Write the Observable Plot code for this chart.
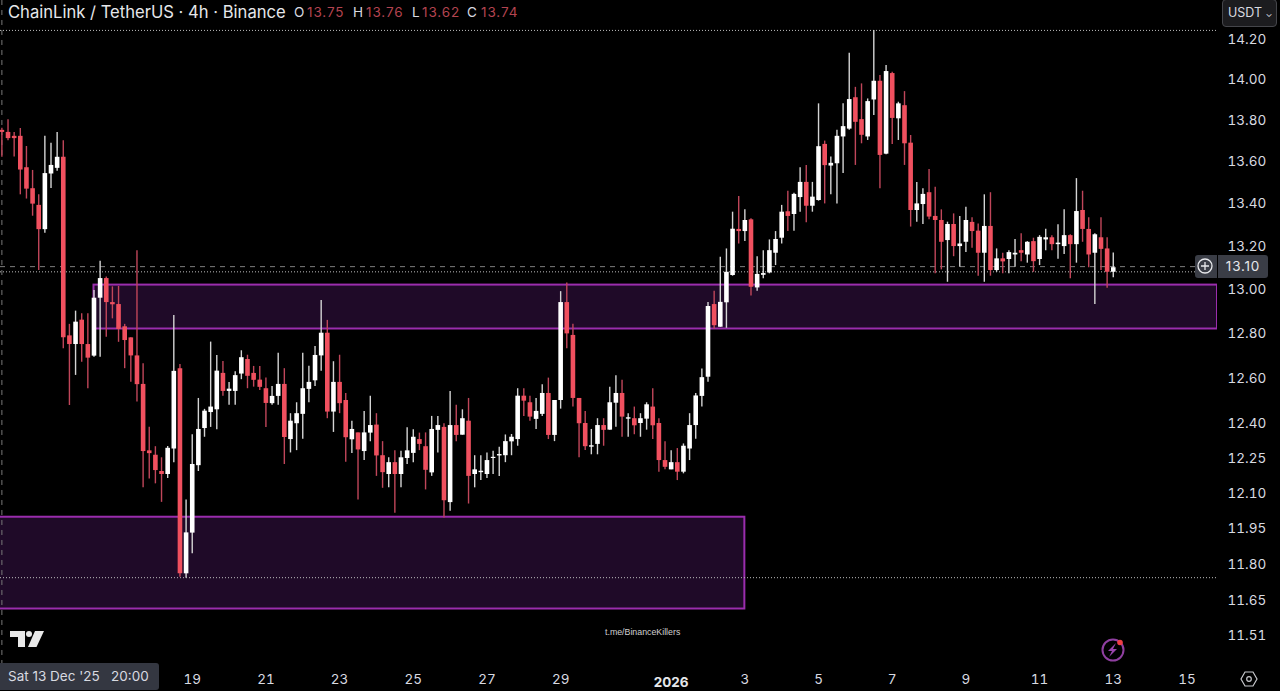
<!DOCTYPE html>
<html>
<head>
<meta charset="utf-8">
<script src="https://cdn.jsdelivr.net/npm/d3@7"></script>
<script src="https://cdn.jsdelivr.net/npm/@observablehq/plot@0.6"></script>
<style>
html,body{margin:0;padding:0;background:#000;overflow:hidden}
#wrap{position:relative;width:1280px;height:691px;background:#000;font-family:Inter,"Noto Sans",sans-serif;color:#d8dae0}
#wrap svg.plot{display:block}
.o{position:absolute;white-space:nowrap;line-height:1}
</style>
</head>
<body>
<div id="wrap">
  <div id="chart"></div>
  <div class="o" style="left:8px;top:4px;font-size:16.6px;color:#e6e7ea">ChainLink / TetherUS · 4h · Binance</div>
  <div class="o" style="left:294px;top:6px;font-size:13.5px;color:#d8dae0">O</div>
  <div class="o" style="left:307px;top:6px;font-size:13.5px;letter-spacing:.9px;color:#b34450">13.75</div>
  <div class="o" style="left:353px;top:6px;font-size:13.5px;color:#d8dae0">H</div>
  <div class="o" style="left:366px;top:6px;font-size:13.5px;letter-spacing:.9px;color:#b34450">13.76</div>
  <div class="o" style="left:412px;top:6px;font-size:13.5px;color:#d8dae0">L</div>
  <div class="o" style="left:422px;top:6px;font-size:13.5px;letter-spacing:.9px;color:#b34450">13.62</div>
  <div class="o" style="left:467px;top:6px;font-size:13.5px;color:#d8dae0">C</div>
  <div class="o" style="left:481px;top:6px;font-size:13.5px;letter-spacing:.9px;color:#b34450">13.74</div>

  <div class="o" style="left:1222px;top:-1px;width:53px;height:26px;background:#1c1c1f;border:1px solid #45464b;border-radius:4px;font-size:12.5px;line-height:26px;text-indent:5px;color:#d8dae0">USDT <span style="font-size:9px">⌄</span></div>

  <div class="o" style="left:1195px;top:255px;width:22px;height:23px;background:#3a3d46;border-radius:3px 0 0 3px"></div>
  <svg class="o" style="left:1196px;top:257px" width="18" height="18" viewBox="0 0 18 18"><circle cx="9" cy="9" r="7" fill="none" stroke="#e8e9ec" stroke-width="1.3"/><path d="M9 5v8M5 9h8" stroke="#e8e9ec" stroke-width="1.3"/></svg>
  <div class="o" style="left:1218px;top:255px;width:50px;height:23px;background:#3a3d46;border-radius:0 3px 3px 0;font-size:13.5px;letter-spacing:.8px;line-height:23px;text-align:center;color:#e6e7ea">13.10</div>

  <div class="o" style="left:0;top:663px;width:159px;height:27px;background:#343741;border-radius:0 3px 3px 0;font-size:13.5px;line-height:27px;text-indent:8px;color:#d8dae0;white-space:pre">Sat 13 Dec '25   20:00</div>

  <svg class="o" style="left:10px;top:631px" width="34" height="17" viewBox="0 0 34 17"><path d="M0 0h15v16H8V6H0zM25 0h9l-7.500 16H18z" fill="#e8e8e8"/><circle cx="19" cy="3" r="3" fill="#e8e8e8"/></svg>
  <div class="o" style="left:605px;top:628px;font-size:8.8px;color:#d0d0d0;font-family:'Liberation Sans',sans-serif">t.me/BinanceKillers</div>

  <svg class="o" style="left:1100px;top:637px" width="26" height="26" viewBox="0 0 26 26"><circle cx="13" cy="13" r="10.500" fill="none" stroke="#8f3fa0" stroke-width="2"/><path d="M16 6l-8 8h4l-3 6 8-8h-4z" fill="#9a45ad"/><circle cx="20" cy="5.500" r="2.800" fill="#ef3e45"/></svg>
  <svg class="o" style="left:1240px;top:670px" width="18" height="18" viewBox="0 0 18 18"><path d="M5 2h8l4 7-4 7H5L1 9z" fill="none" stroke="#c8c9cd" stroke-width="1.200"/><circle cx="9" cy="9" r="2.300" fill="none" stroke="#c8c9cd" stroke-width="1.200"/></svg>
</div>
<script>
// ChainLink / TetherUS, 4h candles, first candle Sat 13 Dec 2025 20:00
const startTime = Date.UTC(2025, 11, 13, 20);
const hour = 3600000;

const open = [
13.75,13.740,13.721,13.721,13.570,13.470,13.391,13.277,13.540,13.567,
13.620,12.789,12.750,12.860,12.750,12.698,12.960,13.050,12.940,12.931,
12.830,12.780,12.699,12.572,12.281,12.262,12.192,12.179,12.289,12.642,
11.760,11.930,12.217,12.378,12.448,12.460,12.621,12.541,12.541,12.618,
12.683,12.621,12.591,12.553,12.487,12.519,12.572,12.330,12.399,12.440,
12.550,12.588,12.699,12.801,12.450,12.581,12.501,12.329,12.359,12.278,
12.358,12.393,12.260,12.179,12.230,12.179,12.248,12.270,12.330,12.299,
12.186,12.370,12.383,12.059,12.391,12.349,12.410,12.179,12.187,12.179,
12.248,12.259,12.260,12.320,12.330,12.520,12.491,12.418,12.440,12.532,
12.348,12.501,12.940,12.791,12.510,12.400,12.297,12.309,12.391,12.371,
12.489,12.532,12.419,12.421,12.400,12.419,12.472,12.400,12.239,12.199,
12.230,12.189,12.289,12.391,12.519,12.604,12.931,12.828,12.939,13.064,
13.278,13.268,13.323,13.007,13.065,13.076,13.167,13.237,13.361,13.348,
13.428,13.500,13.387,13.414,13.682,13.578,13.589,13.718,13.756,13.909,
13.802,13.718,13.898,13.990,13.635,14.028,13.806,13.870,13.688,13.367,
13.395,13.451,13.339,13.320,13.226,13.301,13.198,13.218,13.311,13.270,
13.167,13.292,13.087,13.141,13.138,13.159,13.179,13.159,13.221,13.138,
13.229,13.239,13.207,13.198,13.249,13.207,13.367,13.278,13.167,13.239,
13.187,13.079];

const close = [
13.74,13.710,13.710,13.559,13.468,13.397,13.277,13.542,13.581,13.620,
12.780,12.750,12.851,12.750,12.689,12.960,13.050,12.940,12.930,12.818,
12.768,12.699,12.571,12.278,12.269,12.196,12.179,12.292,12.630,11.760,
11.931,12.222,12.374,12.454,12.472,12.631,12.541,12.551,12.611,12.691,
12.608,12.590,12.559,12.488,12.519,12.572,12.339,12.410,12.443,12.553,
12.581,12.701,12.801,12.450,12.581,12.487,12.338,12.374,12.285,12.359,
12.391,12.259,12.187,12.230,12.179,12.251,12.281,12.340,12.309,12.197,
12.374,12.391,12.067,12.391,12.348,12.421,12.171,12.199,12.193,12.239,
12.253,12.265,12.321,12.340,12.520,12.498,12.428,12.453,12.532,12.348,
12.501,12.940,12.798,12.510,12.399,12.299,12.303,12.391,12.370,12.491,
12.532,12.428,12.425,12.390,12.421,12.482,12.390,12.239,12.210,12.230,
12.189,12.301,12.391,12.521,12.602,12.922,12.835,12.941,13.079,13.279,
13.268,13.320,13.010,13.069,13.073,13.179,13.231,13.359,13.339,13.443,
13.500,13.387,13.430,13.671,13.580,13.591,13.721,13.768,13.900,13.789,
13.726,13.890,13.990,13.629,14.038,13.808,13.879,13.685,13.367,13.398,
13.443,13.336,13.320,13.218,13.301,13.198,13.210,13.320,13.268,13.167,
13.292,13.087,13.141,13.127,13.170,13.167,13.167,13.218,13.128,13.241,
13.239,13.207,13.214,13.249,13.207,13.362,13.278,13.159,13.253,13.185,
13.079,13.100];

const high = [
13.76,13.802,13.739,13.759,13.672,13.557,13.441,13.721,13.688,13.739,
13.700,12.841,12.901,12.889,12.889,12.995,13.130,13.057,13.012,13.014,
12.841,12.780,13.179,12.664,12.384,12.299,12.251,12.300,12.881,12.661,
12.070,12.351,12.510,12.462,12.761,12.701,12.674,12.581,12.628,12.722,
12.702,12.652,12.652,12.600,12.563,12.711,12.642,12.443,12.491,12.711,
12.653,12.741,12.949,12.859,12.673,12.702,12.532,12.410,12.359,12.453,
12.520,12.443,12.321,12.251,12.281,12.279,12.381,12.373,12.358,12.359,
12.431,12.431,12.399,12.541,12.480,12.460,12.510,12.260,12.260,12.272,
12.279,12.297,12.350,12.352,12.553,12.553,12.520,12.510,12.571,12.600,
12.501,12.990,13.030,12.841,12.510,12.453,12.374,12.421,12.421,12.560,
12.611,12.590,12.443,12.472,12.443,12.491,12.553,12.421,12.321,12.281,
12.291,12.311,12.443,12.532,12.640,12.940,12.992,13.148,13.187,13.359,
13.433,13.370,13.328,13.151,13.179,13.229,13.268,13.391,13.458,13.449,
13.570,13.581,13.500,13.879,13.698,13.621,13.750,13.879,14.129,13.960,
13.977,13.903,14.243,14.018,14.068,14.035,13.887,13.939,13.725,13.500,
13.470,13.561,13.477,13.370,13.312,13.351,13.339,13.382,13.333,13.304,
13.441,13.451,13.187,13.167,13.179,13.231,13.258,13.221,13.237,13.249,
13.279,13.249,13.300,13.370,13.253,13.518,13.458,13.333,13.258,13.333,
13.239,13.168];

const low = [
13.62,13.700,13.621,13.441,13.421,13.340,13.087,13.260,13.471,13.553,
12.731,12.479,12.612,12.671,12.553,12.693,12.693,12.783,12.866,12.760,
12.642,12.582,12.494,12.122,12.160,12.139,12.060,12.162,12.230,11.746,
11.742,11.843,12.192,12.340,12.383,12.373,12.520,12.480,12.480,12.593,
12.553,12.560,12.545,12.383,12.480,12.480,12.222,12.272,12.282,12.331,
12.491,12.563,12.630,12.421,12.361,12.443,12.232,12.270,12.070,12.239,
12.320,12.171,12.120,12.122,12.014,12.122,12.222,12.230,12.282,12.113,
12.171,12.272,11.994,12.022,12.321,12.349,12.053,12.122,12.153,12.162,
12.179,12.171,12.230,12.260,12.301,12.431,12.410,12.374,12.431,12.330,
12.321,12.463,12.731,12.472,12.251,12.282,12.264,12.264,12.301,12.371,
12.384,12.340,12.340,12.351,12.340,12.371,12.330,12.189,12.199,12.199,
12.153,12.182,12.239,12.331,12.472,12.582,12.819,12.828,12.823,13.061,
13.210,13.222,12.970,12.992,13.049,13.072,13.110,13.210,13.268,13.270,
13.359,13.309,13.359,13.411,13.398,13.441,13.398,13.542,13.750,13.581,
13.685,13.701,13.822,13.470,13.632,13.682,13.701,13.581,13.289,13.312,
13.301,13.323,13.072,13.090,13.033,13.151,13.102,13.170,13.190,13.061,
13.033,13.061,13.079,13.072,13.072,13.102,13.128,13.121,13.079,13.110,
13.179,13.179,13.139,13.161,13.049,13.121,13.218,13.100,12.931,13.087,
13.006,13.054];

const priceTicks = [14.20,14.00,13.80,13.60,13.40,13.20,13.00,12.80,12.60,12.40,12.25,12.10,11.95,11.80,11.65,11.51];
const dayTicks = [[2025,11,19],[2025,11,21],[2025,11,23],[2025,11,25],[2025,11,27],[2025,11,29],[2026,0,3],[2026,0,5],[2026,0,7],[2026,0,9],[2026,0,11],[2026,0,13],[2026,0,15]];
const yearTick = [{t:new Date(Date.UTC(2026,0,1)), label:"2026"}];

const RED = "#f0505f", RED_WICK = "#c0465a", WHITE = "#ffffff", WHITE_WICK = "#d4d4d4";
const xMin = new Date(startTime - 0.9 * hour), xMax = new Date(startTime + 791.9 * hour);

const candles = open.map((o, i) => ({
  t: new Date(startTime + i * 4 * hour),
  open: o, close: close[i], high: high[i], low: low[i],
  up: close[i] >= o
}));

const zones = [
  {x1: new Date(startTime + 15 * 4 * hour), x2: xMax, top: 13.02, bottom: 12.82},
  {x1: new Date(startTime - 8 * hour), x2: new Date(Date.UTC(2026,0,3)), top: 11.997, bottom: 11.615}
];

const purple = "#9a2dad";
const chart = Plot.plot({
  width: 1280, height: 691,
  marginLeft: 0, marginRight: 63, marginTop: 0, marginBottom: 24,
  style: {background: "#000", color: "#d8dae0", fontFamily: "Inter, 'Noto Sans', sans-serif", fontSize: "13.5px"},
  x: {type: "utc", domain: [xMin, xMax]},
  y: {type: "log", domain: [11.378, 14.394]},
  color: {type: "identity"},
  marks: [
    Plot.rect(zones, {x1: "x1", x2: "x2", y1: "bottom", y2: "top", fill: "#1f0a28", stroke: purple, strokeWidth: 2, clip: "frame"}),
    Plot.ruleY([13.105], {stroke: "#7d7d7d", strokeWidth: 1, strokeDasharray: "5,5"}),
    Plot.ruleY([13.081, 14.243, 11.744], {stroke: "#bdbdbd", strokeWidth: 1, strokeDasharray: "1,2"}),
    Plot.ruleX([new Date(startTime)], {stroke: "#777", strokeWidth: 1, strokeDasharray: "5,5"}),
    Plot.ruleX(candles, {x: "t", y1: "low", y2: "high", strokeWidth: 1.4, stroke: d => d.up ? WHITE_WICK : RED_WICK}),
    Plot.ruleX(candles, {x: "t", y1: "open", y2: "close", strokeWidth: 4.6, stroke: d => d.up ? WHITE : RED}),
    Plot.axisY({anchor: "right", ticks: priceTicks, tickSize: 0, tickPadding: 10, dy: 0.5, tickFormat: d3.format(".2f"), label: null, fill: "#d8dae0"}),
    Plot.axisX({
      anchor: "bottom", tickSize: 0, tickPadding: 7, label: null, fill: "#d8dae0",
      ticks: dayTicks.map(([y, m, d]) => new Date(Date.UTC(y, m, d))),
      tickFormat: d => String(d.getUTCDate())
    }),
    Plot.text(yearTick, {x: "t", frameAnchor: "bottom", dy: 19, text: "label", fontWeight: 700, fill: "#e6e7ea", fontSize: 13.5})
  ]
});
document.getElementById("chart").appendChild(chart);
</script>
</body>
</html>
